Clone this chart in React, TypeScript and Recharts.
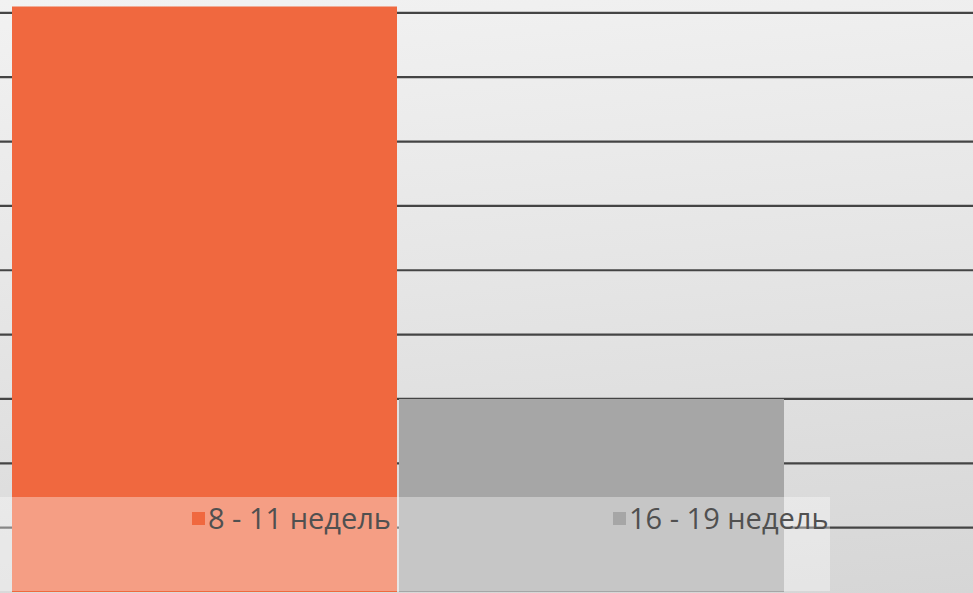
import React from 'react';
import { BarChart, Bar, XAxis, YAxis, CartesianGrid, Legend } from 'recharts';

const categories = ['Срок'];
const seriesNames = ['8 - 11 недель', '16 - 19 недель'];
const series1 = [9.1];
const series2 = [3.0];
const yTicks = [0, 1, 2, 3, 4, 5, 6, 7, 8, 9];

const colors = ['#F0683F', '#A6A6A6'];

const data = categories.map((c, i) => ({ name: c, s1: series1[i], s2: series2[i] }));

const CHART_OFFSET = 177;
const legendLefts = [192, 613];

const renderLegend = (props: any) => {
  const payload = [...(props.payload || [])].sort(
    (a: any, b: any) => seriesNames.indexOf(a.value) - seriesNames.indexOf(b.value)
  );
  return (
    <div style={{ position: 'relative', width: 830, height: 94, background: 'rgba(255,255,255,0.36)' }}>
      {payload.map((entry: any, i: number) => (
        <div
          key={i}
          style={{
            position: 'absolute',
            left: legendLefts[i],
            top: 1,
            display: 'flex',
            alignItems: 'center',
            whiteSpace: 'nowrap',
            fontFamily: '"Open Sans", sans-serif',
            fontSize: 29,
            lineHeight: '40px',
            color: '#505050',
          }}
        >
          <span style={{ display: 'inline-block', width: 13, height: 13, background: entry.color, marginRight: 3 }} />
          <span>{entry.value}</span>
        </div>
      ))}
    </div>
  );
};

export default function App() {
  return (
    <div
      style={{
        position: 'fixed',
        left: 0,
        top: 0,
        width: 973,
        height: 593,
        overflow: 'hidden',
        background: 'linear-gradient(175deg, #f2f2f2 0%, #e6e6e6 45%, #d6d6d6 100%)',
      }}
    >
      <div style={{ position: 'absolute', left: -CHART_OFFSET, top: 0 }}>
        <BarChart
          width={973 + CHART_OFFSET}
          height={593}
          data={data}
          margin={{ top: 0, right: 0, bottom: 1, left: 0 }}
          barGap={2}
        >
          <CartesianGrid horizontal vertical={false} stroke="#444444" strokeWidth={2.2} syncWithTicks />
          <XAxis dataKey="name" hide />
          <YAxis hide domain={[0, 9.2]} ticks={yTicks} />
          <Legend
            layout="horizontal"
            verticalAlign="middle"
            align="center"
            content={renderLegend}
            wrapperStyle={{ left: CHART_OFFSET, top: 497, width: 830, height: 94 }}
          />
          <Bar dataKey="s1" name={seriesNames[0]} fill={colors[0]} barSize={385} isAnimationActive={false} />
          <Bar dataKey="s2" name={seriesNames[1]} fill={colors[1]} barSize={385} isAnimationActive={false} />
        </BarChart>
      </div>
    </div>
  );
}
